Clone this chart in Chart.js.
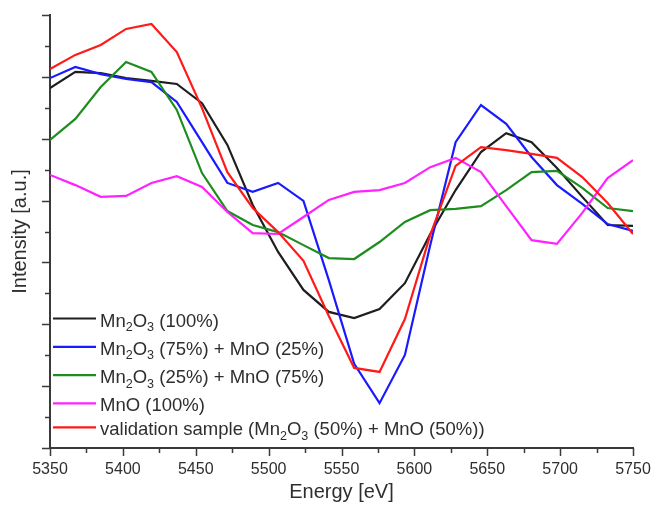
<!DOCTYPE html>
<html>
<head>
<meta charset="utf-8">
<script src="https://cdn.jsdelivr.net/npm/chart.js@4.4.1/dist/chart.umd.min.js"></script>
<style>
  html, body { margin: 0; padding: 0; background: #fff; }
  #chart { display: block; }
</style>
</head>
<body>
<canvas id="chart" width="652" height="505"></canvas>
<script>
// energies of the 24 measured points (eV)
const energy = [5350, 5367.4, 5384.8, 5402.2, 5419.6, 5437.0, 5454.3, 5471.7,
  5489.1, 5506.5, 5523.9, 5541.3, 5558.7, 5576.1, 5593.5, 5610.9,
  5628.3, 5645.7, 5663.0, 5680.4, 5697.8, 5715.2, 5732.6, 5750];

// intensities, arbitrary units (axis 0..14)
const mn2o3 = [11.64, 12.16, 12.12, 11.96, 11.87, 11.77, 11.15, 9.80, 7.86, 6.34, 5.11, 4.40,
  4.20, 4.49, 5.33, 6.92, 8.34, 9.57, 10.18, 9.89, 9.05, 8.12, 7.21, 7.18];
const mix75 = [11.96, 12.32, 12.09, 11.93, 11.83, 11.19, 9.89, 8.57, 8.28, 8.57, 7.99, 5.43,
  2.72, 1.45, 3.01, 6.56, 9.89, 11.09, 10.48, 9.41, 8.50, 7.89, 7.24, 7.02];
const mix25 = [9.96, 10.64, 11.67, 12.48, 12.16, 10.93, 8.89, 7.66, 7.21, 6.98, 6.56, 6.14,
  6.11, 6.66, 7.31, 7.69, 7.73, 7.82, 8.34, 8.92, 8.96, 8.41, 7.76, 7.66];
const mno = [8.83, 8.50, 8.12, 8.15, 8.57, 8.79, 8.44, 7.63, 6.95, 6.92, 7.47, 8.02,
  8.28, 8.34, 8.57, 9.08, 9.38, 8.92, 7.82, 6.72, 6.60, 7.60, 8.73, 9.31];
const validation = [12.25, 12.71, 13.03, 13.55, 13.71, 12.80, 10.99, 8.92, 7.76, 6.98, 6.05, 4.27,
  2.59, 2.46, 4.17, 6.89, 9.12, 9.73, 9.63, 9.51, 9.38, 8.76, 7.92, 6.92];

const seriesLabels = [
  'Mn₂O₃ (100%)',
  'Mn₂O₃ (75%) + MnO (25%)',
  'Mn₂O₃ (25%) + MnO (75%)',
  'MnO (100%)',
  'validation sample (Mn₂O₃ (50%) + MnO (50%))'
];
const seriesValues = [mn2o3, mix75, mix25, mno, validation];
const seriesColors = ['#1e1e1e', '#1a1aff', '#1f8c1f', '#ff22ff', '#ff1a1a'];

const xTickStep = 50;
const yMin = 0, yMax = 14;

const axisColor = '#3a3a3a';
const textColor = '#2e2e2e';
const fontFamily = '"Liberation Sans", Arial, Helvetica, sans-serif';

function toPoints(values) {
  return values.map((v, i) => ({ x: energy[i], y: v }));
}

const datasets = seriesValues.map((vals, i) => ({
  label: seriesLabels[i],
  data: toPoints(vals),
  borderColor: seriesColors[i],
  backgroundColor: seriesColors[i],
  borderWidth: 2.2,
  pointRadius: 0,
  tension: 0,
  fill: false,
  order: seriesValues.length - 1 - i,
}));

const SUBS = { '₀': '0', '₁': '1', '₂': '2', '₃': '3', '₄': '4', '₅': '5', '₆': '6', '₇': '7', '₈': '8', '₉': '9' };

// text with unicode subscripts drawn as small lowered digits
function drawRichText(ctx, text, x, y, size) {
  let cx = x;
  for (const ch of text) {
    if (SUBS[ch]) {
      ctx.font = (size * 0.68) + 'px ' + fontFamily;
      ctx.fillText(SUBS[ch], cx, y + 4.5);
      cx += ctx.measureText(SUBS[ch]).width;
    } else {
      ctx.font = size + 'px ' + fontFamily;
      ctx.fillText(ch, cx, y);
      cx += ctx.measureText(ch).width;
    }
  }
}

const axisTicks = {
  id: 'axisTicks',
  afterDraw(chart) {
    const ctx = chart.ctx;
    const xs = chart.scales.x, ys = chart.scales.y;
    ctx.save();
    ctx.strokeStyle = axisColor;
    ctx.lineWidth = 1.5;
    ctx.beginPath();
    for (let v = xs.min; v <= xs.max + 0.01; v += xTickStep / 2) {
      const px = Math.round(xs.getPixelForValue(v)) + 0.5;
      const len = (v - xs.min) % xTickStep === 0 ? 8 : 5;
      ctx.moveTo(px, xs.top);
      ctx.lineTo(px, xs.top + len);
    }
    for (let v = ys.min; v <= ys.max + 0.01; v += 1) {
      const py = Math.round(ys.getPixelForValue(v)) + 0.5;
      const len = v % 2 === 0 ? 8 : 5;
      ctx.moveTo(ys.right - len, py);
      ctx.lineTo(ys.right, py);
    }
    ctx.stroke();
    ctx.restore();
  }
};

const insideLegend = {
  id: 'insideLegend',
  afterDraw(chart) {
    const ctx = chart.ctx;
    const size = 18.5;
    let base = 326.5;
    ctx.save();
    ctx.textBaseline = 'alphabetic';
    ctx.textAlign = 'left';
    chart.data.datasets.forEach((ds) => {
      ctx.strokeStyle = ds.borderColor;
      ctx.lineWidth = 2.2;
      ctx.beginPath();
      ctx.moveTo(53, base - 8);
      ctx.lineTo(96, base - 8);
      ctx.stroke();
      ctx.fillStyle = textColor;
      drawRichText(ctx, ds.label, 100, base, size);
      base += /[₀-₉]/.test(ds.label) ? 28.3 : 24;
    });
    ctx.restore();
  }
};

new Chart(document.getElementById('chart').getContext('2d'), {
  type: 'line',
  data: { datasets: datasets },
  plugins: [axisTicks, insideLegend],
  options: {
    responsive: false,
    animation: false,
    events: [],
    layout: { padding: { top: 15, right: 19, left: 0, bottom: 0 } },
    plugins: { legend: { display: false }, tooltip: { enabled: false } },
    scales: {
      x: {
        type: 'linear',
        min: 5350,
        max: 5750,
        afterFit: (scale) => {
          scale.height = 57;
          scale.paddingLeft = 0;
          scale.paddingRight = 0;
        },
        grid: { display: false },
        border: { display: true, color: axisColor, width: 2 },
        ticks: {
          stepSize: xTickStep,
          padding: 4,
          color: textColor,
          font: { family: fontFamily, size: 16 },
          maxRotation: 0,
          callback: (v) => String(v),
        },
        title: {
          display: true,
          text: 'Energy [eV]',
          color: textColor,
          font: { family: fontFamily, size: 20 },
          padding: { top: 0, bottom: 1 },
        },
      },
      y: {
        min: yMin,
        max: yMax,
        afterFit: (scale) => { scale.width = 50; },
        grid: { display: false },
        border: { display: true, color: axisColor, width: 2 },
        ticks: { display: false, stepSize: 1 },
        title: {
          display: true,
          text: 'Intensity [a.u.]',
          color: textColor,
          font: { family: fontFamily, size: 20 },
          padding: { top: 8, bottom: 0 },
        },
      },
    },
  },
});
</script>
</body>
</html>
